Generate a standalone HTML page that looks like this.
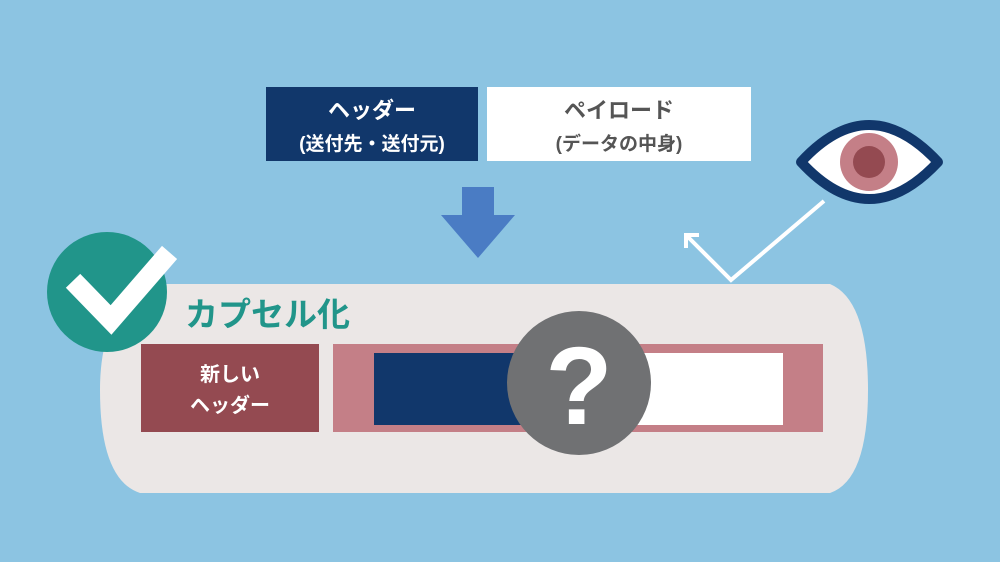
<!DOCTYPE html>
<html><head><meta charset="utf-8"><style>
body{margin:0;width:1000px;height:562px;overflow:hidden;background:#8cc4e2;}
svg{display:block}
text{font-family:"Liberation Sans","Noto Sans CJK JP",sans-serif;font-weight:bold;}
</style></head><body>
<svg width="1000" height="562" viewBox="0 0 1000 562">
<rect width="1000" height="562" fill="#8cc4e2"/>
<rect x="266" y="87" width="212" height="74" fill="#11376b"/>
<text x="372" y="118" font-size="22" fill="#fff" text-anchor="middle">ヘッダー</text>
<text x="372" y="150" font-size="19" fill="#fff" text-anchor="middle">(送付先・送付元)</text>
<rect x="487" y="87" width="264" height="74" fill="#fff"/>
<text x="619" y="118" font-size="22" fill="#555" text-anchor="middle">ペイロード</text>
<text x="619" y="150" font-size="19" fill="#555" text-anchor="middle">(データの中身)</text>
<polygon points="462,187 494,187 494,215 515,215 478,258 441,215 462,215" fill="#4a7cc4"/>
<path d="M160,284 L830,284 Q868,300 868,390 Q868,480 830,493 L140,493 Q100,480 100,390 Q100,300 160,284 Z" fill="#ebe7e6"/>
<polyline points="824,201 731,280 686,235" fill="none" stroke="#fff" stroke-width="4"/>
<polyline points="686,248 686,235 699,235" fill="none" stroke="#fff" stroke-width="4"/>
<path d="M801,162 Q869,88 938,162 Q869,236 801,162 Z" fill="#fff" stroke="#11376b" stroke-width="10" stroke-linejoin="round"/>
<circle cx="869" cy="162" r="29" fill="#c47f87"/>
<circle cx="869" cy="162" r="16" fill="#944a51"/>
<circle cx="107" cy="292" r="60" fill="#21958a"/>
<polyline points="80,288 111,320 163,260" fill="none" stroke="#fff" stroke-width="20" stroke-linecap="square"/>
<text x="185" y="326" font-size="33" fill="#21958a">カプセル化</text>
<rect x="141" y="344" width="178" height="88" fill="#944a51"/>
<text x="230" y="381" font-size="20" fill="#fff" text-anchor="middle">新しい</text>
<text x="230" y="412" font-size="20" fill="#fff" text-anchor="middle">ヘッダー</text>
<rect x="333" y="344" width="490" height="88" fill="#c47f87"/>
<rect x="374" y="353" width="160" height="72" fill="#11376b"/>
<rect x="620" y="353" width="163" height="72" fill="#fff"/>
<circle cx="579" cy="383" r="72" fill="#707173"/>
<text x="579" y="424" font-size="110" fill="#fff" text-anchor="middle">?</text>
</svg>
</body></html>
